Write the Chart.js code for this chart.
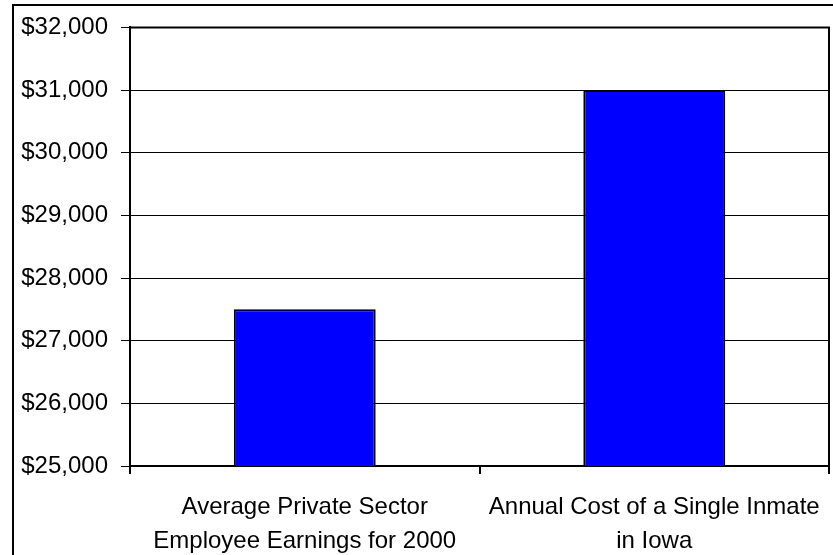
<!DOCTYPE html>
<html>
<head>
<meta charset="utf-8">
<script src="https://cdn.jsdelivr.net/npm/chart.js@4"></script>
<style>
  html, body { margin: 0; padding: 0; background: #fff; }
  #wrap { width: 833px; height: 555px; position: relative; }
</style>
</head>
<body>
<div id="wrap"><canvas id="barChart" width="833" height="555"></canvas></div>
<script>
const categorias = [
    ["Average Private Sector", "Employee Earnings for 2000"],
    ["Annual Cost of a Single Inmate", "in Iowa"]
];
const custos = [27500, 31000];
const eixoMin = 25000;
const eixoMax = 32000;
const passo = 1000;

// moldura externa + borda de cima/direita da area do grafico
const molduras = {
    id: 'molduras',
    afterDraw(chart) {
        const ctx = chart.ctx;
        const a = chart.chartArea;
        ctx.save();
        ctx.strokeStyle = '#000';
        ctx.lineWidth = 2;
        ctx.strokeRect(13, 5, 840, 600);
        ctx.beginPath();
        ctx.moveTo(a.left, a.top);
        ctx.lineTo(a.right, a.top);
        ctx.lineTo(a.right, a.bottom);
        ctx.stroke();
        ctx.restore();
    }
};

const fonte = { family: "'Liberation Sans', Arial, sans-serif", size: 24 };

new Chart(document.getElementById('barChart').getContext('2d'), {
    type: 'bar',
    data: {
        labels: categorias,
        datasets: [{
            data: custos,
            backgroundColor: '#0000FF',
            borderColor: '#000',
            borderWidth: 2,
            barPercentage: 0.406,
            categoryPercentage: 1
        }]
    },
    options: {
        responsive: false,
        animation: false,
        layout: { padding: { left: 0, top: 26, right: 4, bottom: 0 } },
        plugins: { legend: { display: false }, tooltip: { enabled: false } },
        scales: {
            y: {
                min: eixoMin,
                max: eixoMax,
                afterFit(scale) { scale.width = 130; },
                ticks: {
                    stepSize: passo,
                    color: '#000',
                    font: fonte,
                    padding: 13,
                    callback: v => '$' + v.toLocaleString('en-US')
                },
                grid: { color: '#000', lineWidth: 1, tickLength: 9 },
                border: { color: '#000', width: 2 }
            },
            x: {
                afterFit(scale) {
                    scale.height = 89;
                    scale.paddingLeft = 0;
                    scale.paddingRight = 0;
                },
                ticks: { color: '#000', font: { ...fonte, lineHeight: 1.4 }, padding: 17, maxRotation: 0 },
                grid: { drawOnChartArea: false, color: '#000', lineWidth: 2, tickLength: 8 },
                border: { color: '#000', width: 2 }
            }
        }
    },
    plugins: [molduras]
});
</script>
</body>
</html>
